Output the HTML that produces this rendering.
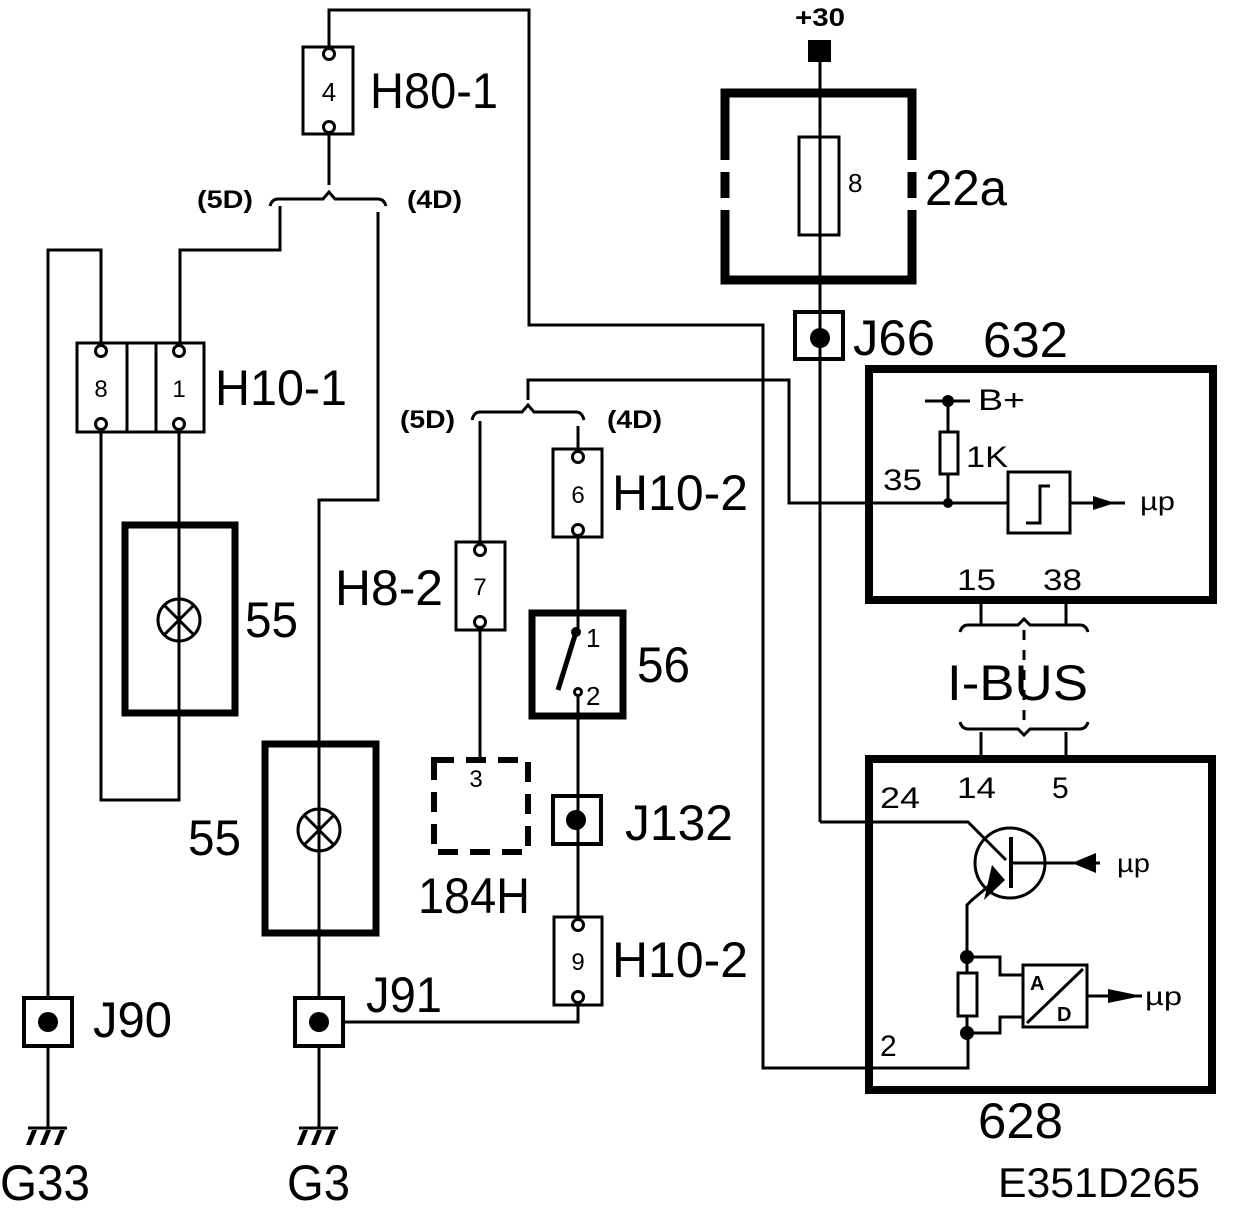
<!DOCTYPE html>
<html><head><meta charset="utf-8"><style>
html,body{margin:0;padding:0;background:#fff}
svg{display:block}
text{font-family:"Liberation Sans",Arial,sans-serif;fill:#000}
.b{font-size:50px}
.s{font-size:25px;font-weight:bold}
.m{font-size:30px}
</style></head><body>
<svg width="1248" height="1210" viewBox="0 0 1248 1210" xmlns="http://www.w3.org/2000/svg">
<g fill="none" stroke="#000" stroke-width="3">
<polyline points="329,47 329,10 529,10 529,325 763,325 763,1068 968,1068 968,1033"/>
<line x1="329" y1="134" x2="329" y2="185"/>
<path d="M270,206 Q272,199 278,199 L323,199 L329,192 L335,199 L378,199 Q384,199 386,206"/>
<polyline points="280,206 280,250 180,250 180,344"/>
<polyline points="378,212 378,500 319,500 319,996"/>
<polyline points="48,996 48,250 101,250 101,344"/>
<polyline points="101,432 101,800 179,800 179,432"/>
<line x1="48" y1="1047" x2="48" y2="1128"/>
<line x1="319" y1="1047" x2="319" y2="1128"/>
<polyline points="344,1022 578,1022 578,1005"/>
<rect x="303" y="47" width="50" height="87"/>
<circle cx="329" cy="54" r="5.5"/><circle cx="329" cy="127" r="5.5"/>
<rect x="77" y="343" width="127" height="89"/>
<line x1="127" y1="343" x2="127" y2="432"/><line x1="156" y1="343" x2="156" y2="432"/>
<circle cx="101" cy="351" r="5.5"/><circle cx="101" cy="424" r="5.5"/>
<circle cx="179" cy="351" r="5.5"/><circle cx="179" cy="424" r="5.5"/>
<rect x="125" y="525" width="110" height="188" stroke-width="7"/>
<circle cx="179" cy="620" r="21"/>
<line x1="164" y1="605" x2="194" y2="635"/><line x1="194" y1="605" x2="164" y2="635"/>
<rect x="265" y="744" width="111" height="189" stroke-width="7"/>
<circle cx="319" cy="830" r="21"/>
<line x1="304" y1="815" x2="334" y2="845"/><line x1="334" y1="815" x2="304" y2="845"/>
<rect x="24" y="998" width="48" height="48" stroke-width="4"/>
<rect x="295" y="998" width="48" height="48" stroke-width="4"/>
<line x1="28" y1="1128" x2="67" y2="1128"/>
<line x1="299" y1="1128" x2="338" y2="1128"/>
<polyline points="528,400 528,380 789,380 789,503 1008,503"/>
<path d="M472,420 Q474,412 480,412 L522,412 L528,405 L534,412 L576,412 Q582,412 584,420"/>
<line x1="480" y1="421" x2="480" y2="542"/>
<line x1="578" y1="426" x2="578" y2="448"/>
<rect x="456" y="542" width="49" height="88"/>
<circle cx="480" cy="550" r="5.5"/><circle cx="480" cy="622" r="5.5"/>
<line x1="480" y1="630" x2="480" y2="760"/>
<rect x="434" y="760" width="94" height="92" stroke-width="6" stroke-dasharray="20,12"/>
<rect x="553" y="449" width="49" height="88"/>
<circle cx="578" cy="457" r="5.5"/><circle cx="578" cy="530" r="5.5"/>
<line x1="578" y1="537" x2="578" y2="628"/>
<rect x="532" y="613" width="91" height="103" stroke-width="7"/>
<line x1="576" y1="632" x2="558" y2="690" stroke-width="5"/>
<circle cx="578" cy="692" r="3.5"/>
<line x1="578" y1="696" x2="578" y2="917"/>
<rect x="553" y="796" width="48" height="48" stroke-width="4"/>
<rect x="554" y="917" width="48" height="88"/>
<circle cx="578" cy="925" r="5.5"/><circle cx="578" cy="997" r="5.5"/>
<line x1="820" y1="60" x2="820" y2="822"/>
<polyline points="820,822 968,822 1006,860"/>
<path d="M725,160 L725,93 L912,93 L912,160 M725,172 L725,198 M912,172 L912,198 M725,210 L725,280 L912,280 L912,210" stroke-width="9"/>
<rect x="799" y="137" width="40" height="98"/>
<rect x="795" y="312" width="48" height="47" stroke-width="4"/>
<rect x="869" y="369" width="344" height="231" stroke-width="8"/>
<line x1="925" y1="401" x2="970" y2="401"/>
<line x1="948" y1="401" x2="948" y2="503"/>
<rect x="940" y="432" width="18" height="42" fill="#fff"/>
<rect x="1008" y="472" width="62" height="61"/>
<polyline points="1026,523 1040,523 1040,486 1050,486"/>
<line x1="1070" y1="503" x2="1125" y2="503"/>
<line x1="981" y1="604" x2="981" y2="624"/><line x1="1066" y1="604" x2="1066" y2="624"/>
<path d="M960,632 Q962,625 968,625 L1018,625 L1024,619 L1030,625 L1080,625 Q1086,625 1088,632"/>
<line x1="1024" y1="630" x2="1024" y2="728" stroke-dasharray="10,10"/>
<path d="M960,722 Q962,729 968,729 L1018,729 L1024,735 L1030,729 L1080,729 Q1086,729 1088,722"/>
<line x1="981" y1="732" x2="981" y2="757"/><line x1="1066" y1="732" x2="1066" y2="757"/>
<rect x="869" y="759" width="343" height="331" stroke-width="8"/>
<circle cx="1010" cy="863" r="35"/>
<line x1="1011" y1="837" x2="1011" y2="888" stroke-width="4"/>
<line x1="1011" y1="863" x2="1100" y2="863"/>
<polyline points="996,880 972,900 967,905 967,1033"/>
<polyline points="967,957 1000,957 1000,975 1023,975"/>
<polyline points="967,1033 1000,1033 1000,1017 1023,1017"/>
<rect x="958" y="973" width="19" height="43" fill="#fff"/>
<rect x="1023" y="965" width="64" height="62"/>
<line x1="1027" y1="1023" x2="1083" y2="969"/>
<line x1="1087" y1="996" x2="1142" y2="996"/>
</g>
<g fill="#000" stroke="none">
<circle cx="48" cy="1022" r="10"/>
<circle cx="319" cy="1022" r="10"/>
<circle cx="576" cy="820" r="10"/>
<circle cx="820" cy="338" r="10"/>
<circle cx="576" cy="632" r="5"/>
<rect x="808" y="40" width="23" height="22"/>
<circle cx="948" cy="401" r="6"/>
<circle cx="948" cy="503" r="5"/>
<circle cx="967" cy="957" r="7"/>
<circle cx="967" cy="1033" r="7"/>
<polygon points="1093,496 1115,503 1093,510"/>
<polygon points="1072,863 1096,853 1096,873"/>
<polygon points="1108,989 1142,996 1108,1003"/>
<polygon points="984,900 992,865 1005,880"/>
<polygon points="32,1130 37,1130 31,1145 26,1145"/><polygon points="46,1130 51,1130 45,1145 40,1145"/><polygon points="60,1130 65,1130 59,1145 54,1145"/>
<polygon points="303,1130 308,1130 302,1145 297,1145"/><polygon points="317,1130 322,1130 316,1145 311,1145"/><polygon points="331,1130 336,1130 330,1145 325,1145"/>
</g>
<g lengthAdjust="spacingAndGlyphs">
<text x="329" y="101" font-size="26" text-anchor="middle">4</text>
<text class="b" x="370" y="108" textLength="128" lengthAdjust="spacingAndGlyphs">H80-1</text>
<text class="s" x="197" y="208" textLength="56" lengthAdjust="spacingAndGlyphs">(5D)</text>
<text class="s" x="407" y="208" textLength="55" lengthAdjust="spacingAndGlyphs">(4D)</text>
<text x="101" y="397" font-size="24" text-anchor="middle">8</text>
<text x="179" y="397" font-size="24" text-anchor="middle">1</text>
<text class="b" x="215" y="405" textLength="132" lengthAdjust="spacingAndGlyphs">H10-1</text>
<text class="b" x="245" y="637" textLength="53" lengthAdjust="spacingAndGlyphs">55</text>
<text class="b" x="188" y="855" textLength="53" lengthAdjust="spacingAndGlyphs">55</text>
<text class="s" x="400" y="428" textLength="55" lengthAdjust="spacingAndGlyphs">(5D)</text>
<text class="s" x="607" y="428" textLength="55" lengthAdjust="spacingAndGlyphs">(4D)</text>
<text x="578" y="503" font-size="24" text-anchor="middle">6</text>
<text class="b" x="612" y="510" textLength="136" lengthAdjust="spacingAndGlyphs">H10-2</text>
<text x="480" y="595" font-size="24" text-anchor="middle">7</text>
<text class="b" x="335" y="605" textLength="108" lengthAdjust="spacingAndGlyphs">H8-2</text>
<text x="586" y="647" font-size="26">1</text>
<text x="586" y="705" font-size="26">2</text>
<text class="b" x="637" y="682" textLength="53" lengthAdjust="spacingAndGlyphs">56</text>
<text x="476" y="787" font-size="24" text-anchor="middle">3</text>
<text class="b" x="418" y="913" textLength="112" lengthAdjust="spacingAndGlyphs">184H</text>
<text class="b" x="625" y="840" textLength="108" lengthAdjust="spacingAndGlyphs">J132</text>
<text x="578" y="970" font-size="24" text-anchor="middle">9</text>
<text class="b" x="612" y="977" textLength="136" lengthAdjust="spacingAndGlyphs">H10-2</text>
<text class="b" x="93" y="1037" textLength="79" lengthAdjust="spacingAndGlyphs">J90</text>
<text class="b" x="366" y="1012" textLength="76" lengthAdjust="spacingAndGlyphs">J91</text>
<text class="b" x="0" y="1200" textLength="90" lengthAdjust="spacingAndGlyphs">G33</text>
<text class="b" x="287" y="1200" textLength="63" lengthAdjust="spacingAndGlyphs">G3</text>
<text class="s" x="795" y="26" textLength="50" lengthAdjust="spacingAndGlyphs">+30</text>
<text x="848" y="192" font-size="26">8</text>
<text class="b" x="925" y="205" textLength="82" lengthAdjust="spacingAndGlyphs">22a</text>
<text class="b" x="853" y="355" textLength="82" lengthAdjust="spacingAndGlyphs">J66</text>
<text class="b" x="983" y="357" textLength="85" lengthAdjust="spacingAndGlyphs">632</text>
<text class="m" x="978" y="410" textLength="47" lengthAdjust="spacingAndGlyphs">B+</text>
<text class="m" x="966" y="467" textLength="42" lengthAdjust="spacingAndGlyphs">1K</text>
<text class="m" x="883" y="490" textLength="39" lengthAdjust="spacingAndGlyphs">35</text>
<text x="1140" y="510" font-size="26" textLength="35" lengthAdjust="spacingAndGlyphs">µp</text>
<text class="m" x="957" y="590" textLength="39" lengthAdjust="spacingAndGlyphs">15</text>
<text class="m" x="1043" y="590" textLength="39" lengthAdjust="spacingAndGlyphs">38</text>
<text class="b" x="947" y="700" textLength="141" lengthAdjust="spacingAndGlyphs">I-BUS</text>
<text class="m" x="957" y="798" textLength="39" lengthAdjust="spacingAndGlyphs">14</text>
<text class="m" x="1052" y="798">5</text>
<text class="m" x="880" y="808" textLength="40" lengthAdjust="spacingAndGlyphs">24</text>
<text x="1117" y="872" font-size="26" textLength="33" lengthAdjust="spacingAndGlyphs">µp</text>
<text x="1030" y="990" font-size="20" font-weight="bold">A</text>
<text x="1057" y="1021" font-size="20" font-weight="bold">D</text>
<text x="1145" y="1005" font-size="26" textLength="37" lengthAdjust="spacingAndGlyphs">µp</text>
<text class="m" x="880" y="1056">2</text>
<text class="b" x="978" y="1138" textLength="85" lengthAdjust="spacingAndGlyphs">628</text>
<text x="998" y="1197" font-size="42" textLength="202" lengthAdjust="spacingAndGlyphs">E351D265</text>
</g>
</svg>
</body></html>
